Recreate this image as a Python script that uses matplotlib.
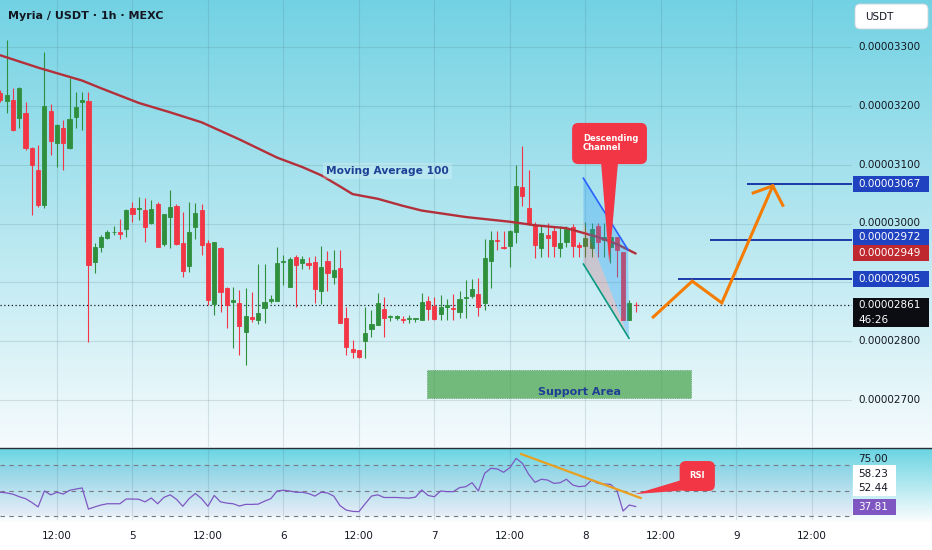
import numpy as np
import matplotlib
matplotlib.use("Agg")
import matplotlib.pyplot as plt
from matplotlib.patches import Rectangle, Polygon, FancyBboxPatch
from matplotlib.lines import Line2D
import matplotlib.transforms as mtrans

# ---------------- data (prices in units of 1e-8 USDT) ----------------
opens = [3222, 3208, 3210, 3179, 3188, 3128, 3091, 3032, 3191, 3137,
         3162, 3128, 3181, 3207, 3208, 2935, 2960, 2975, 2985, 2986,
         2991, 3026, 3024, 3023, 3001, 3033, 2965, 3011, 3030, 2967,
         2928, 2994, 3023, 2967, 2863, 2958, 2890, 2867, 2865, 2816,
         2841, 2836, 2856, 2868, 2868, 2935, 2892, 2943, 2933, 2933,
         2935, 2885, 2936, 2909, 2924, 2839, 2787, 2785, 2800, 2821,
         2828, 2855, 2841, 2839, 2838, 2838, 2838, 2836, 2868, 2860,
         2846, 2858, 2856, 2850, 2873, 2877, 2880, 2865, 2936, 2972,
         2960, 2962, 2986, 3062, 3026, 2998, 2958, 2981, 2987, 2958,
         2969, 2994, 2964, 2962, 2958, 2996, 2972, 2960, 2977, 2952,
         2836, 2862]
highs = [3227, 3312, 3230, 3232, 3207, 3130, 3134, 3292, 3203, 3169,
         3176, 3247, 3224, 3224, 3224, 2967, 2981, 2989, 2996, 3008,
         3025, 3037, 3045, 3043, 3040, 3037, 3016, 3057, 3033, 3020,
         3037, 3035, 3033, 2972, 2969, 2960, 2892, 2892, 2887, 2890,
         2884, 2931, 2931, 2879, 2960, 2947, 2943, 2947, 2945, 2943,
         2945, 2962, 2953, 2955, 2955, 2858, 2802, 2785, 2858, 2853,
         2882, 2875, 2844, 2844, 2843, 2844, 2839, 2882, 2877, 2875,
         2879, 2872, 2880, 2885, 2904, 2906, 2907, 2974, 2987, 2987,
         2987, 2989, 3100, 3132, 3091, 3003, 2996, 3001, 2996, 2996,
         2996, 2999, 2969, 3003, 3001, 3001, 3001, 3001, 2977, 2952,
         2870, 2867]
lows = [3207, 3188, 3157, 3162, 3125, 3015, 3028, 3026, 3116, 3096,
        3091, 3127, 3162, 3159, 2799, 2916, 2952, 2974, 2981, 2974,
        2977, 3003, 3006, 2969, 3000, 2960, 2962, 2958, 2964, 2909,
        2918, 2974, 2946, 2862, 2845, 2850, 2822, 2788, 2777, 2760,
        2833, 2829, 2831, 2865, 2868, 2896, 2892, 2858, 2923, 2923,
        2865, 2863, 2885, 2897, 2831, 2777, 2771, 2771, 2771, 2807,
        2828, 2807, 2834, 2836, 2831, 2831, 2833, 2836, 2836, 2836,
        2836, 2836, 2836, 2839, 2839, 2873, 2843, 2853, 2890, 2955,
        2957, 2926, 2967, 3030, 2998, 2941, 2943, 2943, 2943, 2943,
        2960, 2943, 2943, 2943, 2943, 2943, 2943, 2933, 2909, 2836,
        2836, 2850]
closes = [3210, 3219, 3159, 3230, 3128, 3100, 3032, 3200, 3140, 3168,
          3137, 3178, 3198, 3210, 2930, 2960, 2977, 2986, 2986, 2982,
          3023, 3016, 3026, 2994, 3025, 2960, 3016, 3028, 2965, 2919,
          2986, 3018, 2964, 2870, 2969, 2884, 2862, 2870, 2826, 2843,
          2838, 2848, 2867, 2872, 2933, 2936, 2940, 2930, 2940, 2930,
          2889, 2926, 2916, 2921, 2831, 2790, 2782, 2773, 2814, 2829,
          2865, 2839, 2843, 2843, 2836, 2839, 2839, 2867, 2855, 2838,
          2858, 2862, 2855, 2872, 2875, 2889, 2858, 2941, 2972, 2970,
          2958, 2987, 3064, 3047, 3001, 2964, 2984, 2975, 2962, 2967,
          2991, 2962, 2960, 2975, 2991, 2969, 2977, 2977, 2955, 2836,
          2865, 2861]
rsi = [49, 48.5, 47.5, 45.5, 44, 41, 37.5, 50, 47, 49,
       47.6, 50.5, 51.5, 52.4, 35.8, 37.5, 39, 40, 40, 40,
       43.7, 43.7, 43.5, 41.5, 44.5, 40, 45, 47, 43.5, 38,
       44, 48, 44, 38, 46.5, 41.5, 40.5, 40, 38.2, 39.5,
       39.5, 39.7, 42, 44, 50, 50.6, 50, 49, 49, 48,
       46, 49, 48.5, 46, 38.5, 35, 34, 33.8, 40, 46,
       47, 44.9, 44.9, 44.9, 44.6, 44.4, 45.2, 50.8, 46.5, 45.5,
       50, 49.5, 49.5, 52.6, 53.4, 56.5, 50, 63.9, 67.8, 67.3,
       64.7, 68.3, 75.6, 71.7, 63, 56.8, 59.2, 58.6, 56, 56.5,
       59.2, 54.7, 53.4, 53.9, 58.6, 56, 55.5, 55.2, 50.8, 34.3,
       39, 37.81]
ma_idx = [0, 6, 13, 16, 22, 27, 32, 38, 44, 48, 51, 54, 56, 60, 64, 67, 74, 81, 85, 90, 95, 98, 101]
ma_val = [3286, 3265, 3243, 3230, 3205, 3189, 3172, 3143, 3112, 3096, 3082, 3063, 3050,
          3042, 3030, 3022, 3011, 3003, 2997, 2992, 2977, 2965, 2949]

price_ticks = [2700, 2800, 2900, 3000, 3100, 3200, 3300]
time_tick_pos = [9, 21, 33, 45, 57, 69, 81, 93, 105, 117, 129]
time_tick_labels = ["12:00", "5", "12:00", "6", "12:00", "7", "12:00", "8", "12:00", "9", "12:00"]
rsi_levels = [70, 50, 30]
target_levels = [3067, 2972, 2905]
target_start = [118.7, 112.8, 107.7]
last_price = 2861
ma_last = 2949
rsi_top_label = 75.00
rsi_ma = 58.23
rsi_mid = 52.44
rsi_last = 37.81
countdown = "46:26"

# annotation geometry (chart coordinates: candle index, price / RSI)
chan_top_x, chan_top_y = [92.7, 99.8], [3077, 2955]
chan_bot_x, chan_bot_y = [92.7, 99.94], [2931, 2805]
chan_split_y = 3003
arrow_x = [103.8, 110.0, 114.7, 122.8]
arrow_y = [2841, 2902, 2865, 3064]
arrowhead_x = [119.7, 122.8, 124.4]
arrowhead_y = [3052, 3064, 3031]
support_x, support_y = [67.8, 109.8], [2703, 2751]
rsi_trend_x, rsi_trend_y = [82.8, 101.8], [79.0, 44.5]

# ---------------- style ----------------
GREEN = "#2f8f3c"
RED = "#f23645"
MA_COL = "#b3303a"
BLUE_LBL = "#1f42c0"
TXT = "#131722"
NAVY = "#1f3f94"
plt.rcParams['font.family'] = ['DejaVu Sans']

W, H = 932, 550
fig = plt.figure(figsize=(W / 100, H / 100), dpi=100)

# background gradient
rows = np.zeros((H, 1, 3))
top_m, bot_m = np.array([114, 210, 227]) / 255, np.array([246, 251, 253]) / 255
top_r, bot_r = np.array([105, 212, 226]) / 255, np.array([252, 253, 254]) / 255
for r in range(H):
    if r < 448:
        t = r / 447
        rows[r, 0] = top_m * (1 - t) + bot_m * t
    elif r < 522:
        t = (r - 448) / 73
        rows[r, 0] = top_r * (1 - t) + bot_r * t
    else:
        rows[r, 0] = 1.0
bg = fig.add_axes([0, 0, 1, 1], zorder=-10)
bg.imshow(rows, aspect='auto', extent=(0, 1, 0, 1), origin='upper')
bg.axis('off')

XLIM = (-0.06, 135.4)
ax = fig.add_axes([0, 1 - 447 / H, 852 / W, 447 / H])
axr = fig.add_axes([0, 1 - 520 / H, 852 / W, 71 / H])
for a in (ax, axr):
    a.set_facecolor('none')
    a.set_xlim(*XLIM)
    for s in a.spines.values():
        s.set_visible(False)
ax.set_ylim(2620, 3380)
axr.set_ylim(27.25, 82.94)
ax.set_xticks([])
ax.set_yticks([])
axr.set_yticks([])
axr.set_xticks(time_tick_pos)
axr.set_xticklabels(time_tick_labels)
axr.tick_params(axis='x', length=0, pad=8, labelsize=7.5, labelcolor=TXT)

GRID = (0.3, 0.45, 0.5, 0.18)
for p in price_ticks:
    ax.axhline(p, color=GRID, lw=0.8, zorder=0)
for t in time_tick_pos:
    ax.axvline(t, color=GRID, lw=0.8, zorder=0)
    axr.axvline(t, color=GRID, lw=0.8, zorder=0)

# separator line
fig.add_artist(Line2D([0, 1], [1 - 448 / H, 1 - 448 / H], color='#2a2e39', lw=1.0,
                      transform=fig.transFigure))

# ---------------- candles ----------------
o = np.array(opens, float); c = np.array(closes, float)
h = np.array(highs, float); l = np.array(lows, float)
idx = np.arange(len(o))
cols = [GREEN if cc >= oo else RED for oo, cc in zip(o, c)]
ax.vlines(idx, l, h, colors=cols, lw=0.8, zorder=3)
ax.bar(idx, np.abs(c - o), bottom=np.minimum(o, c), width=0.66, color=cols,
       edgecolor=cols, linewidth=0.6, zorder=4)

# moving average
ax.plot(ma_idx, ma_val, color=MA_COL, lw=1.7, zorder=5, solid_capstyle='round',
        solid_joinstyle='round')
ax.text(61.6, 3089, "Moving Average 100", color=NAVY, fontsize=7.7, fontweight='bold',
        ha='center', va='center', zorder=6,
        bbox=dict(boxstyle='square,pad=0.3', fc=(1, 1, 1, 0.22), ec='none'))

# last price dotted line
ax.axhline(last_price, color=TXT, lw=0.9, ls=(0, (1, 2)), zorder=2)

# descending channel
ax.add_patch(Polygon([(chan_top_x[0], chan_top_y[0]), (chan_top_x[1], chan_top_y[1]),
                      (chan_bot_x[1], chan_bot_y[1]), (chan_top_x[0], chan_split_y)],
                     closed=True, fc='#2196f3', alpha=0.3, ec='none', zorder=5))
ax.add_patch(Polygon([(chan_bot_x[0], chan_split_y), (chan_bot_x[0], chan_bot_y[0]),
                      (chan_bot_x[1], chan_bot_y[1])],
                     closed=True, fc=RED, alpha=0.2, ec='none', zorder=5))
ax.plot(chan_top_x, chan_top_y, color='#2962ff', lw=1.2, zorder=6)
ax.plot(chan_bot_x, chan_bot_y, color='#089981', lw=1.2, zorder=6)

# callout "Descending Channel"
ax.add_patch(FancyBboxPatch((90.9, 3101), 11.9, 70, boxstyle="round,pad=0,rounding_size=1.0",
                            mutation_aspect=10.7, fc=RED, ec='none', zorder=9))
ax.add_patch(Polygon([(95.5, 3104), (98.2, 3104), (96.8, 2933)], closed=True, fc=RED,
                     ec='none', zorder=9))
ax.text(92.6, 3137, "Descending\nChannel", color='white', fontsize=6, fontweight='bold',
        ha='left', va='center', linespacing=1.05, zorder=10)

# target lines
for lv, xs in zip(target_levels, target_start):
    ax.hlines(lv, xs, XLIM[1], color='#1a3aa8', lw=1.4, zorder=6)

# projected path arrow
ax.plot(arrow_x, arrow_y, color='#f57c00', lw=2.2, zorder=7, solid_joinstyle='miter')
ax.plot(arrowhead_x, arrowhead_y, color='#f57c00', lw=2.2, zorder=7, solid_joinstyle='miter')

# support area
ax.add_patch(Rectangle((support_x[0], support_y[0]), support_x[1] - support_x[0],
                       support_y[1] - support_y[0], fc='#43a047', alpha=0.7,
                       ec='#2e7d32', lw=0.6, ls=':', zorder=5))
ax.text(92.0, 2713, "Support Area", color=NAVY, fontsize=8, fontweight='bold',
        ha='center', va='center', zorder=6)

# title
ax.text(8 / 852, 1 - 16 / 447, "Myria / USDT · 1h · MEXC", transform=ax.transAxes,
        fontsize=8, fontweight='bold', color=TXT, ha='left', va='center')

# ---------------- right price scale ----------------
trm = mtrans.blended_transform_factory(ax.transAxes, ax.transData)
PPU = 447 / 760.0
for p in price_ticks:
    if p == 2900:  # hidden behind the 0.00002905 label in the reference
        continue
    ax.text(858 / 852, p, "0.0000%04d" % p, transform=trm, fontsize=7.5, color=TXT,
            ha='left', va='center', clip_on=False)


def price_box(a, tr, ppu, center, text, fc, tc, hpx=16, wpx=76, x0=853):
    a.add_patch(Rectangle((x0 / 852, center - hpx / 2 / ppu), wpx / 852, hpx / ppu,
                          transform=tr, fc=fc, ec='none', clip_on=False, zorder=20))
    a.text((x0 + 5) / 852, center, text, transform=tr, fontsize=7.5, color=tc,
           ha='left', va='center', clip_on=False, zorder=21)


price_box(ax, trm, PPU, 3067, "0.0000%04d" % 3067, BLUE_LBL, 'white')
price_box(ax, trm, PPU, 2972 + 3 / PPU, "0.0000%04d" % 2972, BLUE_LBL, 'white')
price_box(ax, trm, PPU, ma_last, "0.0000%04d" % ma_last, '#c0282f', 'white')
price_box(ax, trm, PPU, 2905, "0.0000%04d" % 2905, BLUE_LBL, 'white')
# last price box with countdown
ax.add_patch(Rectangle((853 / 852, last_price - 22 / PPU), 76 / 852, 29 / PPU, transform=trm,
                       fc='#0b0d12', ec='none', clip_on=False, zorder=20))
ax.text(858 / 852, last_price, "0.0000%04d" % last_price, transform=trm, fontsize=7.5,
        color='white', ha='left', va='center', clip_on=False, zorder=21)
ax.text(858 / 852, last_price - 15 / PPU, countdown, transform=trm, fontsize=7.5,
        color='white', ha='left', va='center', clip_on=False, zorder=21)

# USDT box
ax.add_patch(FancyBboxPatch((855 / 852, 1 - 29 / 447), 73 / 852, 25 / 447,
                            boxstyle="round,pad=0,rounding_size=0.006", mutation_aspect=1.9,
                            transform=ax.transAxes, fc='white', ec='#d1d4dc', lw=0.6,
                            clip_on=False, zorder=20))
ax.text(865 / 852, 1 - 17 / 447, "USDT", transform=ax.transAxes, fontsize=7.5, color=TXT,
        ha='left', va='center', clip_on=False, zorder=21)

# ---------------- RSI panel ----------------
axr.axhspan(30, 70, color='#7e57c2', alpha=0.07, lw=0, zorder=0)
for lv in rsi_levels:
    axr.axhline(lv, color='#787b86', lw=0.8, ls=(0, (4, 4)), zorder=1)
axr.plot(idx, rsi, color='#7e57c2', lw=0.9, zorder=3)
axr.plot(rsi_trend_x, rsi_trend_y, color='#e8a020', lw=1.6, zorder=4)

# RSI callout
axr.add_patch(FancyBboxPatch((108.0, 50.0), 5.6, 23.5, boxstyle="round,pad=0,rounding_size=1.0",
                             mutation_aspect=4.9, fc=RED, ec='none', zorder=9))
axr.add_patch(Polygon([(108.3, 58.6), (109.6, 50.8), (100.9, 47.6)], closed=True, fc=RED,
                      ec='none', zorder=9))
axr.text(110.8, 62.5, "RSI", color='white', fontsize=6, fontweight='bold',
         ha='center', va='center', zorder=10)

trr = mtrans.blended_transform_factory(axr.transAxes, axr.transData)
RPPU = 71 / (82.94 - 27.25)
axr.text(858 / 852, rsi_top_label, "%.2f" % rsi_top_label, transform=trr, fontsize=7.5,
         color=TXT, ha='left', va='center', clip_on=False, zorder=21)
price_box(axr, trr, RPPU, rsi_ma + 5.2, "%.2f" % rsi_ma, 'white', TXT, hpx=17, wpx=43)
price_box(axr, trr, RPPU, rsi_mid, "%.2f" % rsi_mid, 'white', TXT, hpx=17, wpx=43)
price_box(axr, trr, RPPU, rsi_last, "%.2f" % rsi_last, '#7e57c2', 'white', hpx=16, wpx=43)

fig.savefig("out.png", dpi=100)
